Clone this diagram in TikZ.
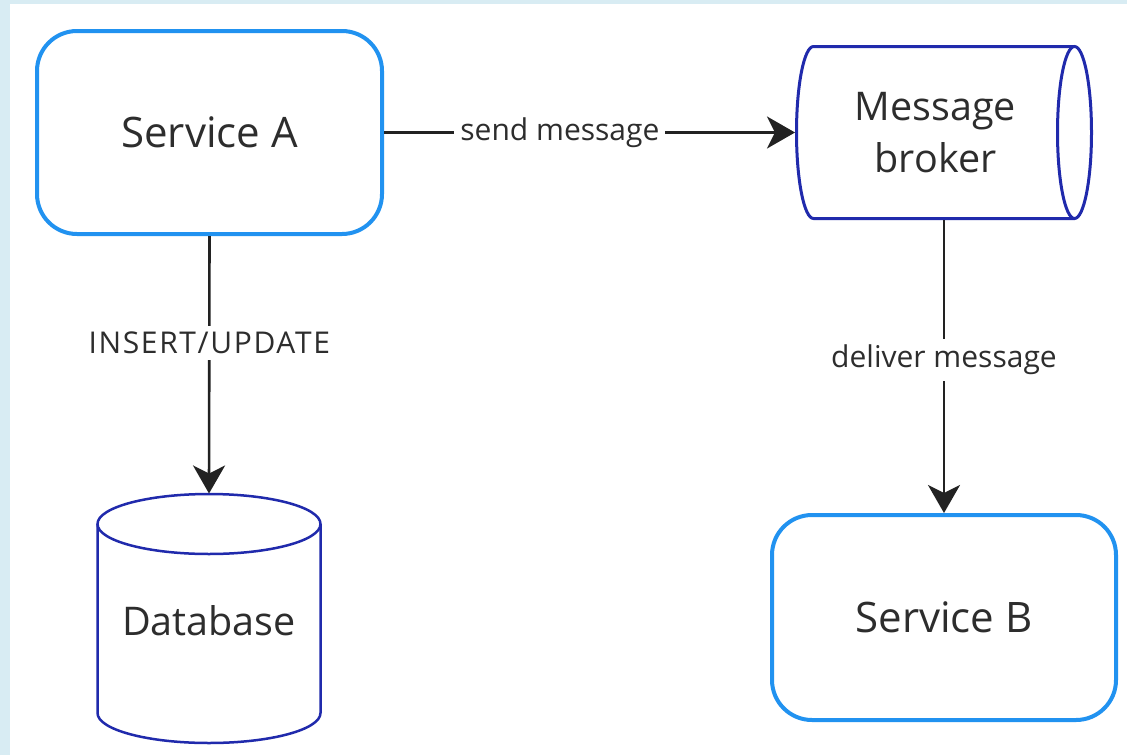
\documentclass[tikz,border=0pt]{standalone}
\usepackage{fontspec}
\setmainfont{Open Sans}
\usetikzlibrary{arrows.meta}
\definecolor{svcblue}{RGB}{33,146,240}
\definecolor{darkblue}{RGB}{32,42,172}
\definecolor{stripblue}{RGB}{216,236,243}
\definecolor{inkgray}{RGB}{45,45,45}
\definecolor{arrowgray}{RGB}{34,34,34}
\tikzset{
  svcbox/.style={draw=svcblue, line width=4pt, rounded corners=40pt, fill=white,
    text=inkgray, font=\fontsize{42}{52}\selectfont},
  maintext/.style={text=inkgray, font=\fontsize{39.5}{52}\selectfont, inner sep=0pt},
  area/.style={draw=none, inner sep=0pt, outer sep=0pt},
  cylline/.style={draw=darkblue, fill=white},
  flow/.style={draw=arrowgray, line width=2.6pt, -{Stealth[length=28pt,width=32pt,inset=8pt]}},
  flowlabel/.style={fill=white, text=inkgray, font=\fontsize{30}{34}\selectfont, inner sep=6pt}
}
\begin{document}
\begin{tikzpicture}[x=1pt,y=-1pt]
\useasboundingbox (0,0) rectangle (1127,755);
\fill[stripblue] (0,0) rectangle (1127,755);
\fill[white] (10,4) rectangle (1127,755);

% Service A
\node[svcbox, minimum width=345pt, minimum height=203pt] (A) at (209.5,132.5) {Service A};

% Service B
\node[svcbox, minimum width=344pt, minimum height=205pt] (B) at (944,617.5) {Service B};

% Message broker (horizontal cylinder)
\node[area, minimum width=298pt, minimum height=175pt] (broker) at (944,132.5) {};
\path[cylline, line width=3pt] (1074.5,46.5) -- (813.5,46.5)
  arc[start angle=90, end angle=270, x radius=17pt, y radius=86pt]
  -- (1074.5,218.5);
\path[cylline, line width=3pt] (1074.5,132.5) ellipse[x radius=17pt, y radius=86pt];
\node[maintext, align=center] (brokertext) at ([xshift=-8.5pt]broker.center) {Message\\broker};

% Database (vertical cylinder)
\node[area, minimum width=226pt, minimum height=250pt] (db) at (209,618.5) {};
\path[cylline, line width=2.5pt] (97.5,524) -- (97.5,713)
  arc[start angle=180, end angle=360, x radius=111.5pt, y radius=30pt]
  -- (320.5,524);
\path[cylline, line width=2.5pt] (209,524) ellipse[x radius=111.5pt, y radius=30pt];
\node[maintext] (dbtext) at ([yshift=-2pt]db.center) {Database};

% Connectors
\draw[flow] (A.east) -- node[flowlabel, pos=0.428] (l1) {send message} (broker.west);
\draw[flow] (A.south) -- node[flowlabel, pos=0.415] (l2) {\addfontfeatures{LetterSpace=5.5}INSERT/UPDATE} (db.north);
\draw[flow] (broker.south) -- node[flowlabel, pos=0.478] (l3) {deliver message} (B.north);
\end{tikzpicture}
\end{document}
